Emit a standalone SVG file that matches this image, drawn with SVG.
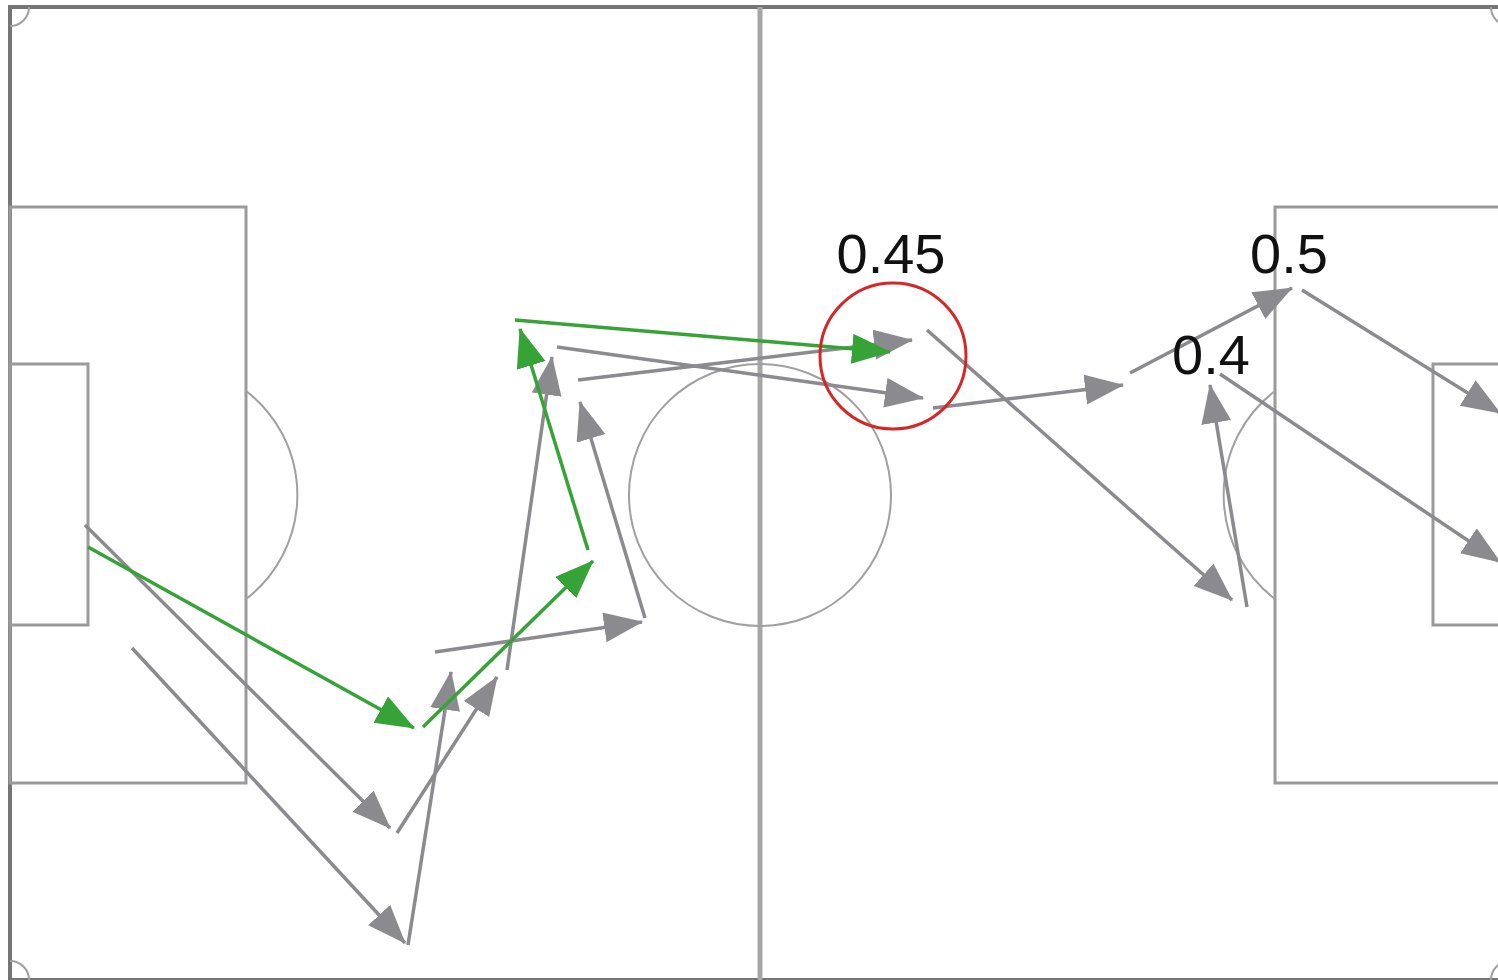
<svg xmlns="http://www.w3.org/2000/svg" width="1498" height="980" viewBox="0 0 1498 980">
<style>
.out{fill:none;stroke:#757575;stroke-width:4}
.mid{fill:none;stroke:#a6a6a6;stroke-width:5}
.box{fill:none;stroke:#9a9a9a;stroke-width:3}
.thin{fill:none;stroke:#a0a0a0;stroke-width:2}
.g{stroke:#8b8b8f;stroke-width:3.5;fill:none;marker-end:url(#hg)}
.v{stroke:#36a336;stroke-width:3.5;fill:none;marker-end:url(#hv)}
.lbl{font-family:"Liberation Sans",Arial,sans-serif;font-size:56px;fill:#111;text-anchor:middle}
</style>
<defs>
<marker id="hg" markerUnits="userSpaceOnUse" markerWidth="42" markerHeight="32" refX="38" refY="15" orient="auto">
<path d="M0,0 L39,15 L0,30 z" fill="#8b8b8f"/>
</marker>
<marker id="hv" markerUnits="userSpaceOnUse" markerWidth="42" markerHeight="32" refX="38" refY="15" orient="auto">
<path d="M0,0 L39,15 L0,30 z" fill="#36a336"/>
</marker>
</defs>
<rect width="1498" height="980" fill="#ffffff"/>
<g id="pitch">
<rect class="out" x="10" y="7" width="1500" height="973"/>
<line class="mid" x1="760" y1="7" x2="760" y2="980"/>
<circle class="thin" cx="760" cy="495" r="131"/>
<rect class="box" x="10" y="207" width="236" height="576"/>
<rect class="box" x="10" y="364" width="78" height="261"/>
<path class="thin" d="M246,391 A131,131 0 0 1 246,599"/>
<rect class="box" x="1275" y="207" width="236" height="576"/>
<rect class="box" x="1433" y="364" width="78" height="261"/>
<path class="thin" d="M1275,391 A131,131 0 0 0 1275,599"/>
<path class="thin" d="M10,26 A19,19 0 0 0 29,7"/>
<path class="thin" d="M1491,7 A19,19 0 0 0 1510,26"/>
<path class="thin" d="M10,961 A19,19 0 0 1 29,980"/>
<path class="thin" d="M1491,980 A19,19 0 0 1 1510,961"/>
</g>
<g id="connectors">
<line class="g" x1="85" y1="525" x2="390" y2="828"/>
<line class="g" x1="132" y1="648" x2="405" y2="943"/>
<line class="g" x1="397" y1="833" x2="497" y2="677"/>
<line class="g" x1="408" y1="945" x2="451" y2="672"/>
<line class="g" x1="435" y1="652" x2="642" y2="622"/>
<line class="g" x1="507" y1="670" x2="552" y2="357"/>
<line class="g" x1="645" y1="618" x2="580" y2="402"/>
<line class="g" x1="557" y1="347" x2="923" y2="398"/>
<line class="g" x1="578" y1="380" x2="912" y2="340"/>
<line class="g" x1="927" y1="330" x2="1232" y2="600"/>
<line class="g" x1="933" y1="408" x2="1123" y2="385"/>
<line class="g" x1="1130" y1="373" x2="1292" y2="288"/>
<line class="g" x1="1302" y1="290" x2="1500" y2="413"/>
<line class="g" x1="1220" y1="374" x2="1500" y2="562"/>
<line class="g" x1="1247" y1="607" x2="1210" y2="385"/>
<line class="v" x1="88" y1="547" x2="414" y2="728"/>
<line class="v" x1="423" y1="727" x2="593" y2="561"/>
<line class="v" x1="588" y1="550" x2="520" y2="329"/>
<line class="v" x1="515" y1="320" x2="890" y2="352"/>
</g>
<g id="highlight">
<circle cx="893" cy="356" r="73" fill="none" stroke="#d62728" stroke-width="3"/>
</g>
<g id="label-045"><text class="lbl" x="891" y="273">0.45</text></g>
<g id="label-05"><text class="lbl" x="1289" y="273">0.5</text></g>
<g id="label-04"><text class="lbl" x="1211" y="374">0.4</text></g>
</svg>
